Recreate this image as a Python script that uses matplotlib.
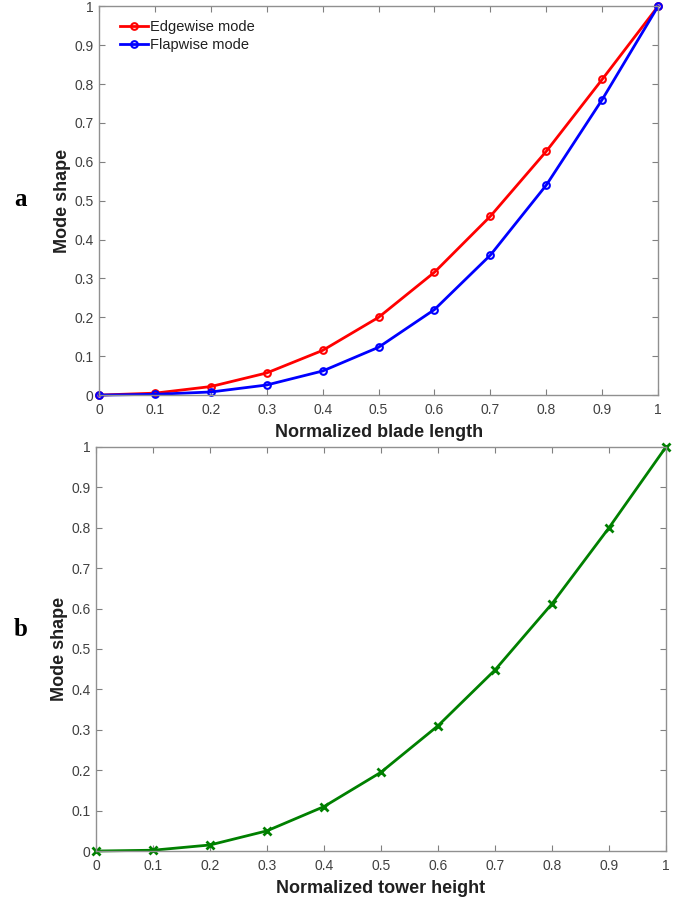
import matplotlib
matplotlib.use("Agg")
import matplotlib.pyplot as plt
import numpy as np

x = [0, 0.1, 0.2, 0.3, 0.4, 0.5, 0.6, 0.7, 0.8, 0.9, 1.0]
edgewise = [0, 0.005, 0.022, 0.057, 0.115, 0.200, 0.316, 0.460, 0.627, 0.812, 1.0]
flapwise = [0, 0.002, 0.008, 0.026, 0.062, 0.123, 0.220, 0.360, 0.540, 0.760, 1.0]
tower = [0, 0.002, 0.015, 0.050, 0.110, 0.195, 0.310, 0.448, 0.612, 0.800, 1.0]
ticks = [0, 0.1, 0.2, 0.3, 0.4, 0.5, 0.6, 0.7, 0.8, 0.9, 1]
tick_labels = ["0", "0.1", "0.2", "0.3", "0.4", "0.5", "0.6", "0.7", "0.8", "0.9", "1"]

plt.rcParams['font.family'] = ['Liberation Sans', 'DejaVu Sans']
fig = plt.figure(figsize=(6.88, 9.0), dpi=100)

def style(ax, xlabel):
    ax.set_xlim(0, 1)
    ax.set_ylim(0, 1)
    ax.set_xticks(ticks)
    ax.set_yticks(ticks)
    ax.set_xticklabels(tick_labels)
    ax.set_yticklabels(tick_labels)
    ax.tick_params(direction='in', length=4, color='#808080', labelcolor='#404040',
                   labelsize=10, top=True, right=True)
    ax.tick_params(axis='x', pad=6)
    ax.tick_params(axis='y', pad=4)
    for s in ax.spines.values():
        s.set_color('#909090')
        s.set_linewidth(1.0)
    ax.set_xlabel(xlabel, fontsize=13, fontweight='bold', labelpad=5, color='#202020')
    ax.set_ylabel("Mode shape", fontsize=13, fontweight='bold', labelpad=2, color='#202020')

ax1 = fig.add_axes([0.144, 0.561, 0.8125, 0.432])
ax1.plot(x, edgewise, color='#ff0000', lw=2, marker='o', ms=4.8, mfc='none', mew=1.5,
         label='Edgewise mode', clip_on=False)
ax1.plot(x, flapwise, color='#0000ff', lw=2, marker='o', ms=4.8, mfc='none', mew=1.5,
         label='Flapwise mode', clip_on=False)
style(ax1, "Normalized blade length")
leg = ax1.legend(loc='upper left', bbox_to_anchor=(0.033, 0.972), frameon=False,
                 fontsize=10.5, handlelength=1.9, handletextpad=0.15, borderaxespad=0,
                 borderpad=0.2, labelspacing=0.3)
for t in leg.get_texts():
    t.set_color('#202020')

ax2 = fig.add_axes([0.1395, 0.0544, 0.8285, 0.449])
ax2.plot(x, tower, color='#008000', lw=2, marker='x', ms=6, mew=2, clip_on=False)
style(ax2, "Normalized tower height")

fig.text(0.03, 0.778, "a", fontsize=18, fontweight='bold', family='Liberation Serif',
         ha='center', va='center')
fig.text(0.03, 0.300, "b", fontsize=18, fontweight='bold', family='Liberation Serif',
         ha='center', va='center')

fig.savefig("out.png", dpi=100)
